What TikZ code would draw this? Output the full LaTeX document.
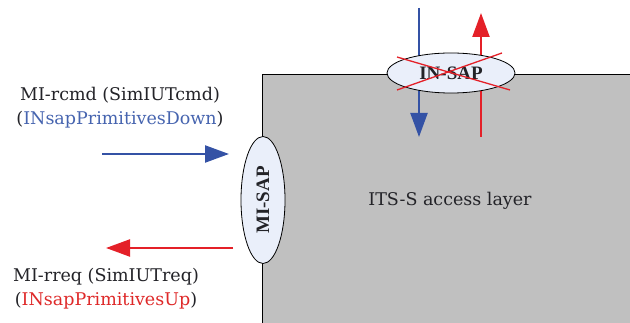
\documentclass[tikz,border=0pt]{standalone}
\usepackage{fontspec}
\setmainfont{DejaVu Serif}
\newfontfamily\sapfont{Liberation Serif}
\usetikzlibrary{arrows.meta,shapes.geometric}
\definecolor{arrblue}{RGB}{52,82,165}
\definecolor{arrred}{RGB}{228,32,40}
\definecolor{txtblue}{RGB}{70,100,175}
\definecolor{txtred}{RGB}{222,40,40}
\definecolor{layergray}{RGB}{192,192,192}
\definecolor{sapfill}{RGB}{234,239,250}
\definecolor{txtdark}{RGB}{35,35,40}
\tikzset{
  flow/.style={line width=2.2pt,-{Triangle[length=24pt,width=17pt]}},
  sap/.style={ellipse,draw=black,line width=0.8pt,fill=sapfill,inner sep=0pt},
  saptext/.style={font=\sapfont\fontsize{19}{22}\selectfont\bfseries,text=txtdark},
  lbl/.style={font=\fontsize{17.5}{21}\selectfont,anchor=base,inner sep=0pt,text=txtdark},
}
\begin{document}
\begin{tikzpicture}[x=1pt,y=-1pt]
\useasboundingbox (0,0) rectangle (630,323);
% access layer box
\fill[layergray] (262,74) rectangle (630,323);
\draw[line width=0.6pt] (262,323) -- (262,74) -- (630,74);
\node[lbl] (layer) at (450,206) {ITS-S access layer};
% IN-SAP arrows
\coordinate (bdtop) at (419,8);
\coordinate (bdbot) at (419,137);
\coordinate (rutop) at (481,13);
\coordinate (rubot) at (481,137);
\draw[flow,arrblue] (bdtop) -- (bdbot);
\draw[flow,arrred] (rubot) -- (rutop);
% IN-SAP ellipse
\node[sap,minimum width=128pt,minimum height=40pt] (insap) at (451,73) {};
\node[saptext] (insapt) at (insap.center) {IN-SAP};
\draw[arrred,line width=1.3pt] (397,57) -- (510,90);
\draw[arrred,line width=1.3pt] (397,90) -- (502,53);
% MI-SAP ellipse
\node[sap,minimum width=44pt,minimum height=127pt] (misap) at (263,200) {};
\node[saptext,rotate=90] (misapt) at (misap.center) {MI-SAP};
% MI arrows
\coordinate (bstart) at (102,154);
\coordinate (bend) at (229,154);
\coordinate (rstart) at (233,248);
\coordinate (rend) at (106,248);
\draw[flow,arrblue] (bstart) -- (bend);
\draw[flow,arrred] (rstart) -- (rend);
% labels
\node[lbl] (cmd) at (120,101) {MI-rcmd (SimIUTcmd)};
\node[lbl] (cmd2) at (120,125) {(\textcolor{txtblue}{INsapPrimitivesDown})};
\node[lbl] (req) at (106,282) {MI-rreq (SimIUTreq)};
\node[lbl] (req2) at (106,306) {(\textcolor{txtred}{INsapPrimitivesUp})};
\end{tikzpicture}
\end{document}
